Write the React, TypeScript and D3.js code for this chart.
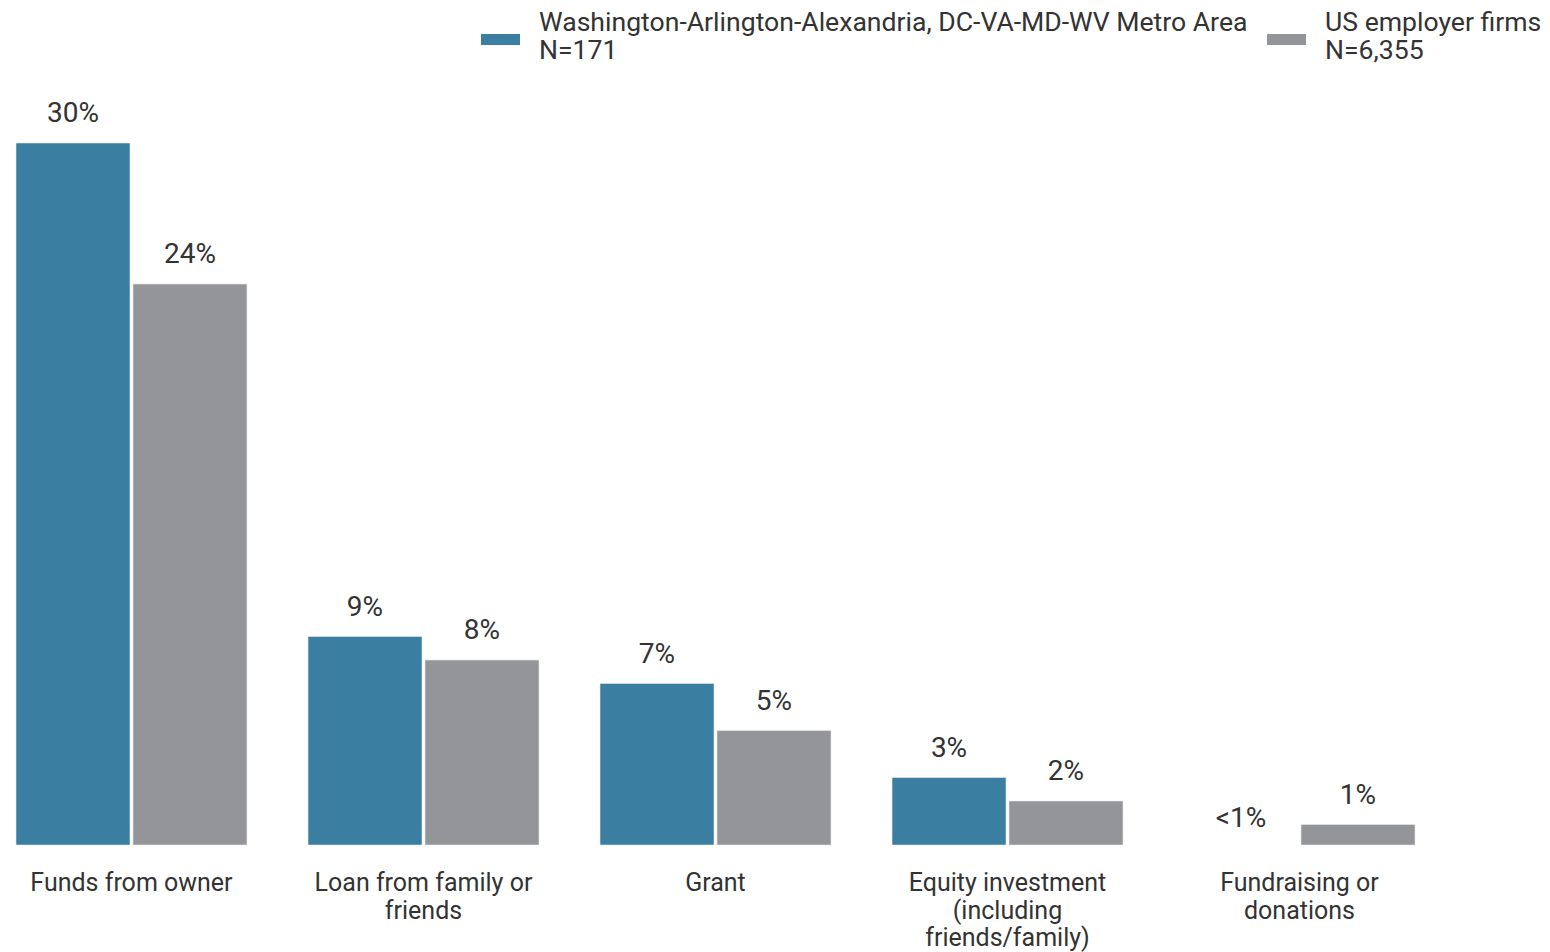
import React from "react";
import * as d3 from "d3";

const categories = [
  "Funds from owner",
  "Loan from family or friends",
  "Grant",
  "Equity investment (including friends/family)",
  "Fundraising or donations",
];
const categoryLines = [
  ["Funds from owner"],
  ["Loan from family or", "friends"],
  ["Grant"],
  ["Equity investment", "(including", "friends/family)"],
  ["Fundraising or", "donations"],
];
const seriesKeys = ["metro", "us"];
const seriesNames = [
  ["Washington-Arlington-Alexandria, DC-VA-MD-WV Metro Area", "N=171"],
  ["US employer firms", "N=6,355"],
];
const seriesColors = ["#3A7EA1", "#939598"];
const metroValues = [30, 9, 7, 3, 0];
const usValues = [24, 8, 5, 2, 1];
const metroLabels = ["30%", "9%", "7%", "3%", "<1%"];
const usLabels = ["24%", "8%", "5%", "2%", "1%"];

const W = 1550;
const H = 952;
const FONT = "Roboto, 'Noto Sans', sans-serif";
const TEXT = "#333333";

export default function App() {
  const x0 = d3.scaleBand<string>().domain(categories).range([16, 1415]).paddingInner(0.209).paddingOuter(0);
  const x1 = d3.scaleBand<string>().domain(seriesKeys).range([0, x0.bandwidth()]).paddingInner(0.0256);
  const y = d3.scaleLinear().domain([0, 30]).range([848, 143]);
  const values = [metroValues, usValues];
  const labels = [metroLabels, usLabels];
  const gap = 3;

  return (
    <svg width={W} height={H} style={{ display: "block", position: "absolute", left: 0, top: 0 }}>
      <rect width={W} height={H} fill="#fff" />
      {/* legend */}
      {[481, 1267].map((lx, i) => (
        <g key={i}>
          <rect x={lx} y={34} width={39} height={11} fill={seriesColors[i]} />
          {seriesNames[i].map((t, j) => (
            <text key={j} x={lx + 58} y={30.5 + j * 28} fontFamily={FONT} fontSize={26.6} fill={TEXT}>
              {t}
            </text>
          ))}
        </g>
      ))}
      {categories.map((c, ci) => (
        <g key={c} transform={`translate(${x0(c)},0)`}>
          {seriesKeys.map((k, si) => {
            const v = values[si][ci];
            const h = Math.max(0, y(0) - gap - y(v));
            const bx = x1(k)!;
            return (
              <g key={k}>
                {h > 0 && (
                  <rect x={bx} y={y(v)} width={x1.bandwidth()} height={h} fill={seriesColors[si]} stroke="#e8e8e8" strokeWidth={0.6} />
                )}
                <text
                  x={bx + x1.bandwidth() / 2}
                  y={y(v) - 21}
                  textAnchor="middle"
                  fontFamily={FONT}
                  fontSize={28}
                  fill={TEXT}
                >
                  {labels[si][ci]}
                </text>
              </g>
            );
          })}
          {categoryLines[ci].map((line, li) => (
            <text
              key={li}
              x={x0.bandwidth() / 2}
              y={891 + li * 27.5}
              textAnchor="middle"
              fontFamily={FONT}
              fontSize={25}
              fill={TEXT}
            >
              {line}
            </text>
          ))}
        </g>
      ))}
    </svg>
  );
}
